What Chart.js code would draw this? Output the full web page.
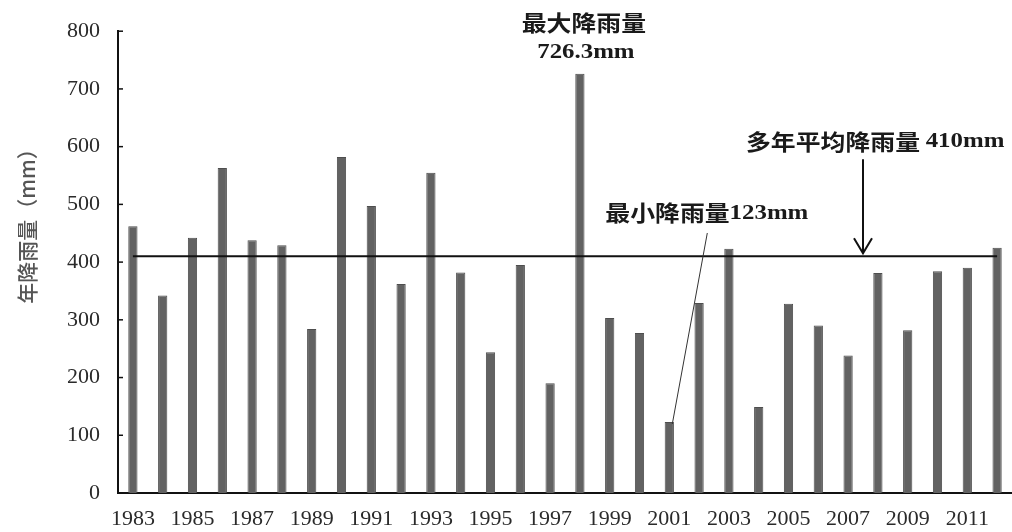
<!DOCTYPE html>
<html>
<head>
<meta charset="utf-8">
<script src="https://cdn.jsdelivr.net/npm/chart.js@4.4.1/dist/chart.umd.min.js"></script>
<style>
html,body{margin:0;padding:0;background:#fff;}
canvas{display:block;}
</style>
</head>
<body>
<canvas id="c" width="1012" height="532"></canvas>
<script>
const years = ['1983','1984','1985','1986','1987','1988','1989','1990','1991','1992','1993','1994','1995','1996','1997','1998','1999','2000','2001','2002','2003','2004','2005','2006','2007','2008','2009','2010','2011','2012'];
const rainfall = [462,342,442,563,438,429,284,582,497,362,555,382,244,395,190,726.3,303,277,123,329,423,149,328,290,238,381,282,384,390,425];
const meanRain = 410;
const meanSeries = years.map(() => meanRain);
const yTicks = [0,100,200,300,400,500,600,700,800];
const maxYear = '1998', maxValue = 726.3;
const minYear = '2001', minValue = 123;
const yTitle = '年降雨量（mm）';
const maxText1 = '最大降雨量', maxText2 = '726.3mm';
const minTextCJK = '最小降雨量', minTextNum = '123mm';
const meanTextCJK = '多年平均降雨量 ', meanTextNum = '410mm';

const SERIF = '"Liberation Serif", "Times New Roman", Times, serif';
const CJK = '700 22px "Noto Sans CJK SC"';
const NUM = '700 22px ' + SERIF;
const SX = 1.13;

function drawParts(ctx, parts, x, y, align) {
  let w = 0;
  parts.forEach(p => { ctx.font = p.f; p.w = ctx.measureText(p.t).width; w += p.w; });
  let start = align === 'center' ? x - w * SX / 2 : x;
  ctx.save();
  ctx.translate(start, y);
  ctx.scale(SX, 1);
  ctx.textAlign = 'left';
  ctx.textBaseline = 'middle';
  let cx = 0;
  parts.forEach(p => { ctx.font = p.f; ctx.fillText(p.t, cx, 0); cx += p.w; });
  ctx.restore();
}

const annot = {
  id: 'annot',
  afterDraw(chart) {
    const ctx = chart.ctx;
    const xs = chart.scales.x, ys = chart.scales.y;
    const area = chart.chartArea;
    ctx.save();
    // inward y ticks
    ctx.strokeStyle = '#111';
    ctx.lineWidth = 1.5;
    yTicks.forEach(v => {
      const py = ys.getPixelForValue(v);
      ctx.beginPath();
      ctx.moveTo(area.left, py);
      ctx.lineTo(area.left + 5, py);
      ctx.stroke();
    });
    // y title
    ctx.save();
    ctx.translate(27, 221);
    ctx.rotate(-Math.PI / 2);
    ctx.fillStyle = '#555';
    ctx.font = '500 21px "Noto Sans CJK SC"';
    ctx.textAlign = 'center';
    ctx.textBaseline = 'middle';
    ctx.fillText(yTitle, 0, 0);
    ctx.restore();

    ctx.fillStyle = '#1a1a1a';
    // max label
    const xMax = xs.getPixelForValue(years.indexOf(maxYear));
    const yMax = ys.getPixelForValue(maxValue);
    drawParts(ctx, [{t: maxText1, f: CJK}], xMax + 4, yMax - 51, 'center');
    drawParts(ctx, [{t: maxText2, f: NUM}], xMax + 6, yMax - 21, 'center');

    // min label + leader
    const xMin = xs.getPixelForValue(years.indexOf(minYear));
    const yMin = ys.getPixelForValue(minValue);
    drawParts(ctx, [{t: minTextCJK, f: CJK}, {t: minTextNum, f: NUM}], xMin - 64, yMin - 209, 'left');
    ctx.strokeStyle = '#333';
    ctx.lineWidth = 1;
    ctx.beginPath();
    ctx.moveTo(xMin + 38, yMin - 189);
    ctx.lineTo(xMin + 3, yMin + 2);
    ctx.stroke();

    // mean label + arrow
    const yMean = ys.getPixelForValue(meanRain);
    const xA = (xs.getPixelForValue(years.indexOf('2007')) + xs.getPixelForValue(years.indexOf('2008'))) / 2;
    drawParts(ctx, [{t: meanTextCJK, f: CJK}, {t: meanTextNum, f: NUM}], xA - 117, yMean - 115, 'left');
    ctx.strokeStyle = '#111';
    ctx.lineWidth = 2;
    ctx.beginPath();
    ctx.moveTo(xA, yMean - 97);
    ctx.lineTo(xA, yMean - 3);
    ctx.stroke();
    ctx.beginPath();
    ctx.moveTo(xA - 9, yMean - 18);
    ctx.lineTo(xA, yMean - 3);
    ctx.lineTo(xA + 9, yMean - 18);
    ctx.stroke();
    ctx.restore();
  }
};

new Chart(document.getElementById('c'), {
  type: 'bar',
  data: {
    labels: years,
    datasets: [
      {
        type: 'line',
        data: meanSeries,
        borderColor: '#111',
        borderWidth: 2,
        pointRadius: 0,
        fill: false,
        order: 0
      },
      {
        type: 'bar',
        data: rainfall,
        backgroundColor: '#626262',
        borderColor: '#4e4e4e',
        borderWidth: 1,
        barPercentage: 0.31,
        categoryPercentage: 1,
        order: 1
      }
    ]
  },
  options: {
    responsive: false,
    animation: false,
    devicePixelRatio: 1,
    layout: { padding: { left: 0, right: 0, top: 30, bottom: 0 } },
    plugins: { legend: { display: false }, tooltip: { enabled: false } },
    scales: {
      x: {
        grid: { display: false, drawTicks: false },
        border: { display: true, color: '#111', width: 2 },
        ticks: {
          autoSkip: false,
          maxRotation: 0,
          minRotation: 0,
          padding: 13,
          color: '#2a2a2a',
          font: { family: SERIF, size: 22 },
          callback: (v, i) => (i % 2 === 0 ? years[i] : '')
        },
        afterFit: (s) => { s.height = 39; }
      },
      y: {
        min: 0,
        max: 800,
        grid: { display: false, drawTicks: false },
        border: { display: true, color: '#111', width: 2 },
        ticks: {
          stepSize: 100,
          padding: 18,
          color: '#2a2a2a',
          font: { family: SERIF, size: 22 }
        },
        afterFit: (s) => { s.width = 118; }
      }
    }
  },
  plugins: [annot]
});
</script>
</body>
</html>
